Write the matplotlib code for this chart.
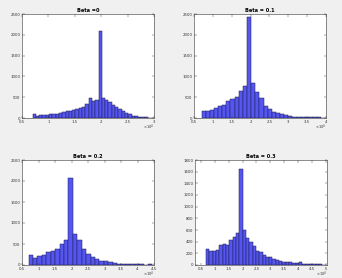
import numpy as np
import matplotlib
matplotlib.use("Agg")
import matplotlib.pyplot as plt

# ---- data (bin counts; x in units of 1e4) ----
titles = ["Beta =0", "Beta = 0.1", "Beta = 0.2", "Beta = 0.3"]

p1_start, p1_width = 0.70, 0.0625
p1_counts = [100, 50, 70, 70, 75, 85, 90, 100, 120, 140, 160, 180, 200, 215,
             250, 270, 330, 470, 420, 440, 2100, 490, 440, 380, 320, 270, 210,
             160, 120, 90, 60, 40, 30, 20, 15, 10, 5]

p2_start, p2_width = 0.70, 0.1096
p2_counts = [180, 160, 200, 250, 290, 320, 420, 450, 500, 650, 760, 2420, 830,
             630, 470, 290, 210, 150, 110, 90, 70, 50, 35, 25, 20, 15, 15, 30,
             20, 10]

p3_start, p3_width = 0.70, 0.134
p3_counts = [240, 175, 220, 240, 300, 330, 380, 490, 600, 2070, 740, 600, 380,
             260, 200, 140, 100, 90, 80, 50, 35, 30, 25, 25, 20, 15, 10, 15]

p4_start, p4_width = 0.68, 0.12
p4_counts = [270, 235, 245, 260, 335, 360, 345, 430, 480, 550, 1640, 600, 455,
             400, 330, 235, 220, 175, 140, 130, 110, 85, 70, 60, 55, 50, 40,
             30, 45, 25, 25, 20, 15, 10, 10, 8]

xlims = [(0.5, 3.0), (0.5, 4.0), (0.5, 4.5), (0.28, 5.05)]
xticks = [[0.5, 1, 1.5, 2, 2.5, 3],
          [0.5, 1, 1.5, 2, 2.5, 3, 3.5, 4],
          [0.5, 1, 1.5, 2, 2.5, 3, 3.5, 4, 4.5],
          [0.5, 1, 1.5, 2, 2.5, 3, 3.5, 4, 4.5, 5]]
ylims = [(0, 2500), (0, 2500), (0, 2500), (0, 1800)]
yticks = [list(range(0, 2501, 500))] * 3 + [list(range(0, 1801, 200))]

panels = [(p1_start, p1_width, p1_counts), (p2_start, p2_width, p2_counts),
          (p3_start, p3_width, p3_counts), (p4_start, p4_width, p4_counts)]

# ---- layout ----
W, H = 342, 278
fig = plt.figure(figsize=(W / 100, H / 100), dpi=100, facecolor="#f0f0f0")
boxes = [(22, 14, 154, 118), (194, 14, 326, 118),
         (22, 160, 154, 265), (195, 160, 327, 265)]

for i, (b, (s, w, c)) in enumerate(zip(boxes, panels)):
    l, t, r, btm = b
    ax = fig.add_axes([l / W, 1 - btm / H, (r - l) / W, (btm - t) / H])
    ax.set_facecolor("white")
    centers = s + w * (np.arange(len(c)) + 0.5)
    ax.bar(centers, c, width=w, color="#5555f0", edgecolor="#1c1c50",
           linewidth=0.35)
    ax.set_xlim(*xlims[i])
    ax.set_ylim(*ylims[i])
    ax.set_xticks(xticks[i])
    ax.set_xticklabels([("%g" % v) for v in xticks[i]])
    ax.set_yticks(yticks[i])
    ax.tick_params(direction="in", length=1.8, width=0.3, labelsize=2.8,
                   pad=1.2, top=True, right=True, colors="#333333")
    for sp in ax.spines.values():
        sp.set_linewidth(0.4)
        sp.set_color("#333333")
    ax.set_title(titles[i], fontsize=3.6, fontweight="bold", pad=1.5)
    ax.text(1.0, -0.045, r"$\times10^{4}$", transform=ax.transAxes,
            ha="right", va="top", fontsize=2.6, color="#333333")

fig.savefig("out.png", dpi=100, facecolor=fig.get_facecolor())
